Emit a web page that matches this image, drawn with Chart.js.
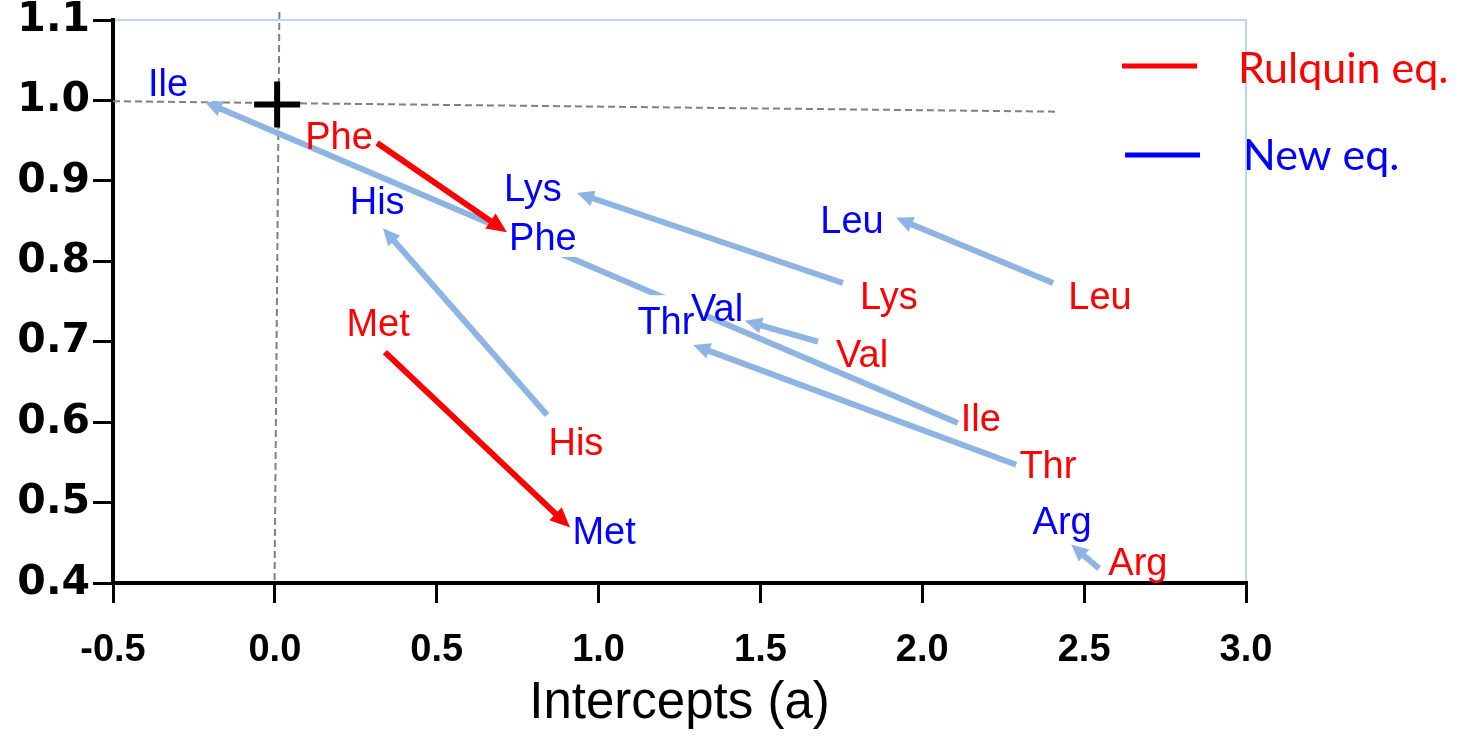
<!DOCTYPE html>
<html>
<head>
<meta charset="utf-8">
<title>Intercepts and slopes of amino acid equations</title>
<script src="https://cdn.jsdelivr.net/npm/chart.js@4.4.1/dist/chart.umd.min.js"></script>
<style>
  html, body { margin: 0; padding: 0; background: #ffffff; }
  #wrap { width: 1472px; height: 736px; }
</style>
</head>
<body>
<div id="wrap"><canvas id="chart" width="1472" height="736"></canvas></div>
<script>
// Amino acids, in the order used by every array below
const acids = ['Ile', 'Phe', 'Met', 'His', 'Lys', 'Leu', 'Val', 'Thr', 'Arg'];

// Label anchors (intercept a, slope) for the Rulquin equations
const rulquinLabelX = [2.181, 0.198, 0.319, 0.930, 1.897, 2.549, 1.814, 2.388, 2.666];
const rulquinLabelY = [0.606, 0.956, 0.724, 0.576, 0.757, 0.757, 0.686, 0.547, 0.427];

// Label anchors for the new equations
const newLabelX = [-0.330, 0.828, 1.017, 0.316, 0.797, 1.783, 1.366, 1.208, 2.432];
const newLabelY = [1.023, 0.831, 0.466, 0.876, 0.892, 0.852, 0.743, 0.726, 0.478];

// Arrows: which equation colours them, where they start and where they point
const arrowEq = ['new', 'rulquin', 'rulquin', 'new', 'new', 'new', 'new', 'new', 'new'];
const arrowFromX = [2.110, 0.316, 0.340, 0.841, 1.755, 2.404, 1.678, 2.290, 2.546];
const arrowFromY = [0.599, 0.947, 0.687, 0.609, 0.773, 0.773, 0.700, 0.547, 0.418];
const arrowToX = [-0.216, 0.717, 0.912, 0.334, 0.933, 1.919, 1.452, 1.292, 2.460];
const arrowToY = [0.998, 0.836, 0.469, 0.841, 0.885, 0.854, 0.726, 0.696, 0.448];

// Reference guides: a = 0 and b = 1, plus the ideal point
const guideVX = [0.014, -0.001];
const guideVY = [1.11, 0.40];
const guideHX = [-0.5, 2.416];
const guideHY = [0.999, 0.986];
const idealX = [0.007];
const idealY = [0.995];

// Axis ticks
const xTicks = [-0.5, 0.0, 0.5, 1.0, 1.5, 2.0, 2.5, 3.0];
const yTicks = [0.4, 0.5, 0.6, 0.7, 0.8, 0.9, 1.0, 1.1];

// Legend entries
const legendNames = ['Rulquin eq.', 'New eq.'];

// ---- styling ----
const RED = '#ff0000';
const BLUE_TEXT = '#0000ff';
const ARROW_BLUE = '#8db4e2';
const LABEL_FONT = '"Liberation Sans", Arial, sans-serif';
const LABEL_SIZE = 38;
const boxedNewLabels = ['Phe', 'Thr'];

const toPoints = (xs, ys) => xs.map((x, i) => ({ x: x, y: ys[i] }));

const datasets = [];
datasets.push({
  label: 'ideal',
  data: toPoints(idealX, idealY),
  pointStyle: 'cross',
  pointRadius: 23,
  pointBorderWidth: 6,
  pointBorderColor: '#000000',
  borderColor: '#000000',
  showLine: false,
  clip: false
});
datasets.push({
  label: 'guide-v',
  data: toPoints(guideVX, guideVY),
  showLine: true,
  borderColor: '#808080',
  borderWidth: 2,
  borderDash: [7, 4],
  pointRadius: 0,
  clip: false
});
datasets.push({
  label: 'guide-h',
  data: toPoints(guideHX, guideHY),
  showLine: true,
  borderColor: '#808080',
  borderWidth: 2,
  borderDash: [7, 4],
  pointRadius: 0,
  clip: false
});
acids.forEach((name, i) => {
  datasets.push({
    label: 'arrow-' + name,
    arrowEq: arrowEq[i],
    data: [{ x: arrowFromX[i], y: arrowFromY[i] }, { x: arrowToX[i], y: arrowToY[i] }],
    showLine: false,
    pointRadius: 0,
    clip: false
  });
});

function arrowColor(eq) { return eq === 'rulquin' ? RED : ARROW_BLUE; }

function arrowGeom(chart) {
  const out = [];
  chart.data.datasets.forEach((ds, i) => {
    if (!ds.arrowEq) return;
    const meta = chart.getDatasetMeta(i);
    const a = meta.data[0], b = meta.data[1];
    const dx = b.x - a.x, dy = b.y - a.y;
    const len = Math.hypot(dx, dy);
    const ux = dx / len, uy = dy / len;
    const red = ds.arrowEq === 'rulquin';
    out.push({
      a, b, ux, uy,
      color: arrowColor(ds.arrowEq),
      headLen: red ? 20 : 17,
      headHalf: red ? 9 : 8
    });
  });
  return out;
}

const figurePlugin = {
  id: 'figure',
  beforeDraw(chart) {
    const ctx = chart.ctx;
    const ca = chart.chartArea;
    ctx.save();
    ctx.fillStyle = '#ffffff';
    ctx.fillRect(0, 0, chart.width, chart.height);
    ctx.strokeStyle = '#a9c7ea';
    ctx.lineWidth = 1.5;
    ctx.beginPath();
    ctx.moveTo(ca.left, ca.top);
    ctx.lineTo(ca.right, ca.top);
    ctx.lineTo(ca.right, ca.bottom);
    ctx.stroke();
    ctx.restore();
  },
  afterDatasetsDraw(chart) {
    const ctx = chart.ctx;
    const xs = chart.scales.x, ys = chart.scales.y;
    const arrows = arrowGeom(chart);

    // arrow shafts
    ctx.save();
    ctx.lineCap = 'butt';
    arrows.forEach(ar => {
      ctx.strokeStyle = ar.color;
      ctx.lineWidth = 6;
      ctx.beginPath();
      ctx.moveTo(ar.a.x, ar.a.y);
      ctx.lineTo(ar.b.x - ar.ux * ar.headLen * 0.7, ar.b.y - ar.uy * ar.headLen * 0.7);
      ctx.stroke();
    });
    ctx.restore();

    // labels: opaque boxes first, then all the text on top
    ctx.save();
    ctx.font = LABEL_SIZE + 'px ' + LABEL_FONT;
    ctx.textAlign = 'center';
    ctx.textBaseline = 'alphabetic';
    const labels = [];
    acids.forEach((name, i) => {
      labels.push({ text: name, x: rulquinLabelX[i], y: rulquinLabelY[i], color: RED, boxed: false });
    });
    acids.forEach((name, i) => {
      labels.push({ text: name, x: newLabelX[i], y: newLabelY[i], color: BLUE_TEXT, boxed: boxedNewLabels.includes(name) });
    });
    labels.forEach(l => {
      l.px = xs.getPixelForValue(l.x);
      l.base = ys.getPixelForValue(l.y) + 0.358 * LABEL_SIZE;
      if (!l.boxed) return;
      const w = ctx.measureText(l.text).width;
      const capTop = l.base - 0.716 * LABEL_SIZE;
      ctx.fillStyle = '#ffffff';
      ctx.fillRect(l.px - w / 2 - 14, capTop - 12, w + 26, (l.base + 7) - (capTop - 12));
    });
    labels.forEach(l => {
      ctx.fillStyle = l.color;
      ctx.fillText(l.text, l.px, l.base);
    });
    ctx.restore();

    // arrow heads
    ctx.save();
    arrows.forEach(ar => {
      const bx = ar.b.x - ar.ux * ar.headLen, by = ar.b.y - ar.uy * ar.headLen;
      const nx = -ar.uy, ny = ar.ux;
      ctx.fillStyle = ar.color;
      ctx.beginPath();
      ctx.moveTo(ar.b.x, ar.b.y);
      ctx.lineTo(bx + nx * ar.headHalf, by + ny * ar.headHalf);
      ctx.lineTo(bx - nx * ar.headHalf, by - ny * ar.headHalf);
      ctx.closePath();
      ctx.fill();
    });
    ctx.restore();
  },
  afterDraw(chart) {
    // legend block at the right
    const ctx = chart.ctx;
    const entries = [
      { name: legendNames[0], line: RED, text: RED, x0: 1122, x1: 1197, ly: 66, tx: 1238, base: 83, maxW: 216 },
      { name: legendNames[1], line: '#0000ff', text: BLUE_TEXT, x0: 1125, x1: 1200, ly: 155, tx: 1243, base: 170, maxW: 157 }
    ];
    ctx.save();
    entries.forEach(e => {
      ctx.strokeStyle = e.line;
      ctx.lineWidth = 5;
      ctx.beginPath();
      ctx.moveTo(e.x0, e.ly);
      ctx.lineTo(e.x1, e.ly);
      ctx.stroke();
      ctx.font = '43px Lato, "Open Sans", sans-serif';
      ctx.textAlign = 'left';
      ctx.textBaseline = 'alphabetic';
      ctx.fillStyle = e.text;
      ctx.fillText(e.name, e.tx, e.base, e.maxW);
    });
    ctx.restore();
  }
};

const tickFormat = v => Number(v).toFixed(1);

new Chart(document.getElementById('chart'), {
  type: 'scatter',
  data: { datasets: datasets },
  plugins: [figurePlugin],
  options: {
    responsive: false,
    animation: false,
    events: [],
    layout: { autoPadding: false, padding: { top: 20, right: 226, left: 0, bottom: 0 } },
    plugins: { legend: { display: false }, tooltip: { enabled: false } },
    scales: {
      x: {
        type: 'linear',
        min: xTicks[0],
        max: xTicks[xTicks.length - 1],
        afterBuildTicks: s => { s.ticks = xTicks.map(v => ({ value: v })); },
        afterFit: s => { s.height = 153; s.paddingLeft = 0; s.paddingRight = 0; },
        ticks: {
          callback: tickFormat,
          color: '#000000',
          font: { family: 'Liberation Sans', size: 38, weight: 'bold' },
          padding: 25,
          maxRotation: 0,
          autoSkip: false
        },
        grid: { display: true, drawOnChartArea: false, drawTicks: true, tickLength: 20, color: '#000000', lineWidth: 3 },
        border: { display: true, color: '#000000', width: 4 },
        title: {
          display: true,
          text: 'Intercepts (a)',
          color: '#000000',
          font: { family: 'Liberation Sans', size: 51 },
          padding: { top: 0, bottom: 1 }
        }
      },
      y: {
        type: 'linear',
        min: yTicks[0],
        max: yTicks[yTicks.length - 1],
        afterBuildTicks: s => { s.ticks = yTicks.map(v => ({ value: v })); },
        afterFit: s => { s.width = 113; s.paddingTop = 0; s.paddingBottom = 0; },
        ticks: {
          callback: tickFormat,
          color: '#000000',
          font: { family: 'DejaVu Sans', size: 41, weight: 'bold' },
          padding: 3,
          autoSkip: false
        },
        grid: { display: true, drawOnChartArea: false, drawTicks: true, tickLength: 20, color: '#000000', lineWidth: 3 },
        border: { display: true, color: '#000000', width: 4 }
      }
    }
  }
});
</script>
</body>
</html>
